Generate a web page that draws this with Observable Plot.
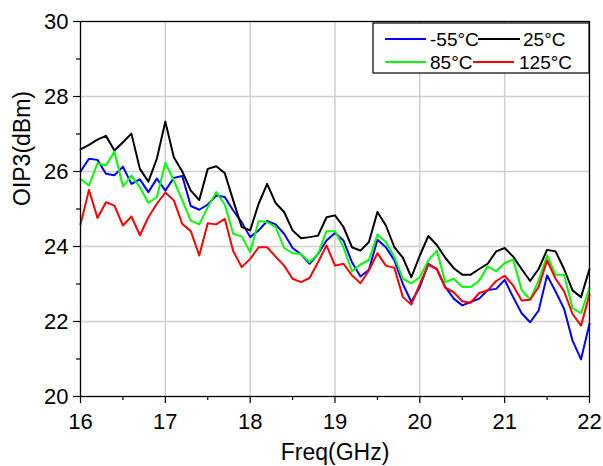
<!DOCTYPE html>
<html><head><meta charset="utf-8">
<script src="https://cdn.jsdelivr.net/npm/d3@7"></script>
<script src="https://cdn.jsdelivr.net/npm/@observablehq/plot@0.6"></script>
<style>
body{margin:0;background:#fff;}
#chart svg{font-family:"Liberation Sans",Arial,sans-serif;overflow:visible;}
</style></head><body><div id="chart"></div>
<script>
const freq = [16.0,16.1,16.2,16.3,16.4,16.5,16.6,16.7,16.8,16.9,
  17.0,17.1,17.2,17.3,17.4,17.5,17.6,17.7,17.8,17.9,
  18.0,18.1,18.2,18.3,18.4,18.5,18.6,18.7,18.8,18.9,
  19.0,19.1,19.2,19.3,19.4,19.5,19.6,19.7,19.8,19.9,
  20.0,20.1,20.2,20.3,20.4,20.5,20.6,20.7,20.8,20.9,
  21.0,21.1,21.2,21.3,21.4,21.5,21.6,21.7,21.8,21.9,22.0];
const oipM55 = [26.00,26.34,26.31,25.94,25.90,26.13,25.67,25.79,25.45,25.81,
  25.49,25.83,25.88,25.08,24.98,25.12,25.36,25.32,24.96,24.65,
  24.25,24.43,24.68,24.59,24.34,23.96,23.79,23.54,23.80,24.16,
  24.36,24.16,23.58,23.20,23.38,24.18,23.98,23.63,23.00,22.52,
  22.92,23.54,23.40,22.92,22.61,22.43,22.52,22.61,22.84,22.87,
  23.11,22.65,22.22,21.98,22.29,23.23,22.80,22.34,21.49,20.99,21.94];
const oip25 = [26.59,26.71,26.85,26.95,26.56,26.78,27.01,26.07,25.73,26.34,
  27.33,26.38,26.00,25.49,25.24,26.07,26.14,25.96,25.23,24.52,
  24.43,25.14,25.67,25.16,24.92,24.43,24.22,24.25,24.29,24.78,
  24.83,24.52,23.98,23.89,24.12,24.92,24.56,23.98,23.70,23.18,
  23.76,24.28,24.04,23.70,23.42,23.25,23.25,23.40,23.54,23.87,
  23.96,23.73,23.40,23.08,23.40,23.91,23.87,23.40,22.83,22.65,23.40];
const oip85 = [25.80,25.63,26.22,26.16,26.53,25.60,25.89,25.58,25.16,25.32,
  26.23,25.76,25.23,24.69,24.59,25.05,25.45,25.12,24.34,24.27,
  23.85,24.68,24.65,24.52,23.96,23.82,23.80,23.58,23.80,24.41,
  24.41,23.98,23.34,23.52,23.64,24.32,24.12,23.72,23.14,23.02,
  23.18,23.63,23.89,23.05,23.14,22.92,22.92,23.09,23.47,23.34,
  23.56,23.65,22.84,22.58,23.09,23.76,23.25,23.25,22.36,22.22,22.90];
const oip125 = [24.59,25.51,24.76,25.18,25.09,24.56,24.80,24.30,24.78,25.14,
  25.44,25.23,24.60,24.41,23.76,24.62,24.59,24.74,23.88,23.45,
  23.67,23.98,23.98,23.73,23.49,23.14,23.05,23.16,23.58,24.03,
  23.49,23.54,23.23,23.02,23.36,23.82,23.49,23.43,22.65,22.45,
  23.00,23.51,23.40,22.90,22.78,22.54,22.50,22.76,22.83,23.08,
  23.22,22.96,22.56,22.58,22.92,23.63,23.14,22.81,22.20,21.89,22.72];
const seriesNames = ["-55°C","25°C","85°C","125°C"];
const seriesColors = ["#0000ff","#000000","#00ff00","#ff0000"];
const xTicks = [16,17,18,19,20,21,22];
const xMinor = [16.5,17.5,18.5,19.5,20.5,21.5];
const yTicks = [20,22,24,26,28,30];
const yMinor = [21,23,25,27,29];
const xTitle = "Freq(GHz)";
const yTitle = "OIP3(dBm)";

const rows = [];
[oipM55, oip25, oip85, oip125].forEach((vals, i) =>
  vals.forEach((v, j) => rows.push({freq: freq[j], oip: v, series: seriesNames[i]})));

const font = '"Liberation Sans", Arial, sans-serif';
const plot = Plot.plot({
  width: 603, height: 466,
  marginLeft: 80, marginRight: 14, marginTop: 21, marginBottom: 70,
  style: {fontFamily: font, fontSize: "22px", color: "#000", background: "#fff"},
  x: {domain: [16, 22], label: null},
  y: {domain: [20, 30], label: null},
  color: {domain: seriesNames, range: seriesColors},
  marks: [
    Plot.gridX(xTicks.slice(1, -1), {stroke: "#cfcfcf", strokeOpacity: 1, strokeWidth: 1.5}),
    Plot.gridY(yTicks.slice(1, -1), {stroke: "#cfcfcf", strokeOpacity: 1, strokeWidth: 1.5}),
    Plot.line(rows, {x: "freq", y: "oip", z: "series", stroke: "series", strokeWidth: 2}),
    Plot.frame({stroke: "#000", strokeWidth: 1.3}),
    Plot.axisX(xTicks, {tickSize: 7, tickPadding: 10, fontSize: 22, label: null, strokeWidth: 1.2}),
    Plot.axisX(xMinor, {tickSize: 4, fill: "none", label: null, strokeWidth: 1.2}),
    Plot.axisY(yTicks, {tickSize: 7, tickPadding: 5, fontSize: 22, label: null, strokeWidth: 1.2}),
    Plot.axisY(yMinor, {tickSize: 4, fill: "none", label: null, strokeWidth: 1.2}),
    Plot.text([xTitle], {text: d => d, frameAnchor: "bottom", dy: 63, lineAnchor: "bottom", fontSize: 23, fill: "#000"}),
    Plot.text([yTitle], {text: d => d, frameAnchor: "left", dx: -58, dy: -3, rotate: -90, fontSize: 23, fill: "#000"})
  ]
});
document.getElementById("chart").appendChild(plot);

// legend
const svg = d3.select(plot);
const lg = svg.append("g").attr("font-family", font).attr("font-size", 19).attr("text-anchor", "start");
lg.append("rect").attr("x", 373).attr("y", 23).attr("width", 216).attr("height", 50)
  .attr("fill", "#fff").attr("stroke", "#000").attr("stroke-width", 1.2);
const legendPos = [
  {lx1: 385, lx2: 426, ly: 39, tx: 430, ty: 46},
  {lx1: 478, lx2: 520, ly: 39, tx: 523, ty: 46},
  {lx1: 385, lx2: 426, ly: 62, tx: 430, ty: 69},
  {lx1: 473, lx2: 514, ly: 62, tx: 519, ty: 69}
];
seriesNames.forEach((name, i) => {
  const p = legendPos[i];
  lg.append("line").attr("x1", p.lx1).attr("x2", p.lx2).attr("y1", p.ly).attr("y2", p.ly)
    .attr("stroke", seriesColors[i]).attr("stroke-width", 2);
  lg.append("text").attr("x", p.tx).attr("y", p.ty).attr("fill", "#000").attr("text-anchor", "start").text(name);
});
</script></body></html>
